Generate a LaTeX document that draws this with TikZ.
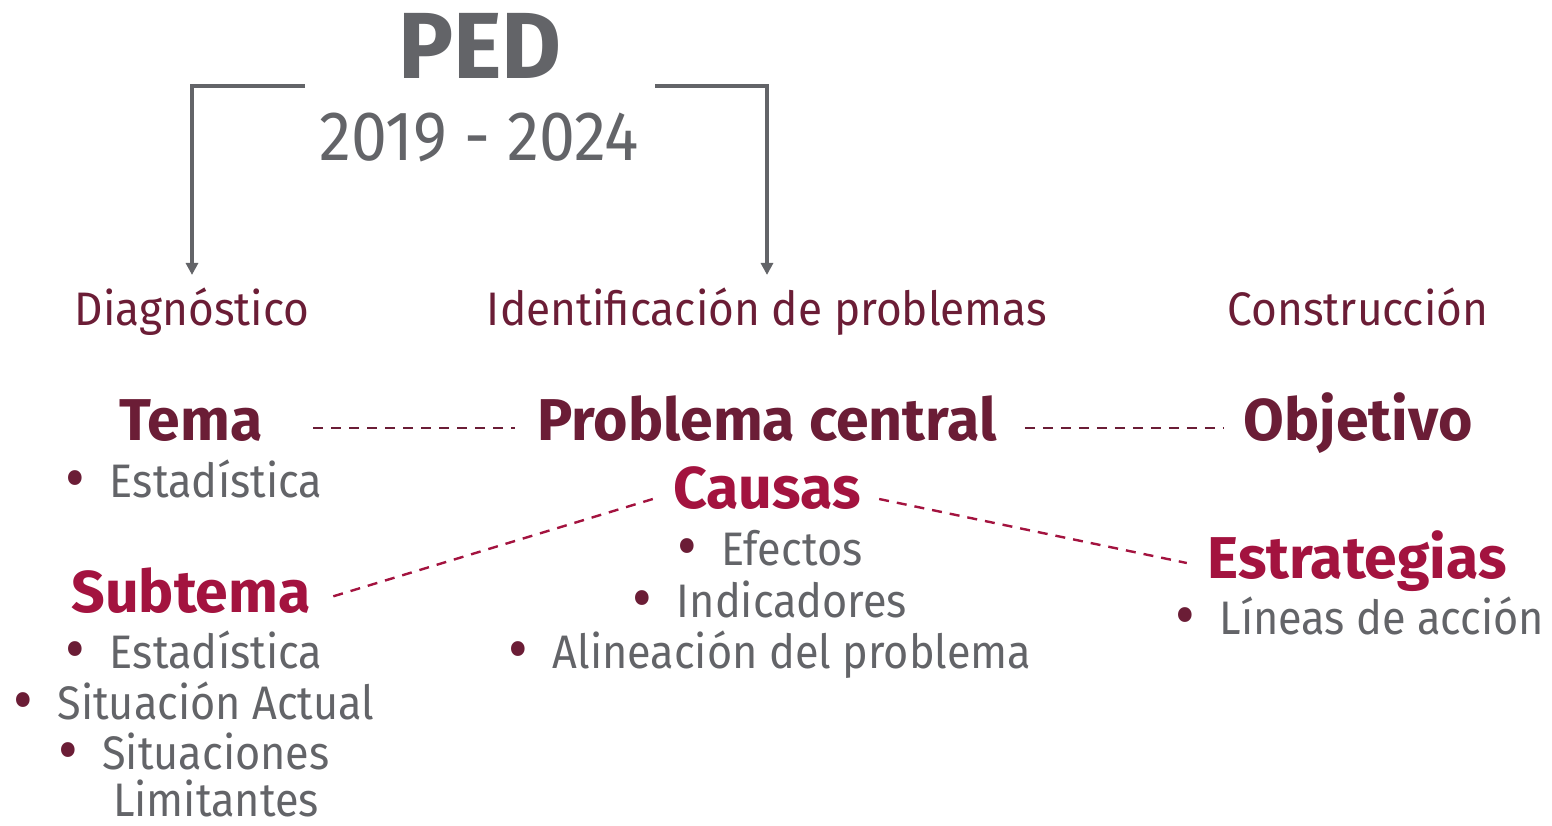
\documentclass[tikz,border=0pt]{standalone}
\usepackage{fontspec}
\setmainfont{Fira Sans}
\newfontfamily\titlefont[FakeStretch=0.98]{Fira Sans}
\newfontfamily\yearsfont[FakeStretch=0.92]{Fira Sans}
\newfontfamily\stagefont[FakeStretch=0.94]{Fira Sans}
\newfontfamily\itemfont[FakeStretch=0.92]{Fira Sans}
\usetikzlibrary{arrows.meta}

\definecolor{pedgray}{HTML}{636468}
\definecolor{pedmaroon}{HTML}{6B1D36}
\definecolor{pedcrimson}{HTML}{A3133F}

\newcommand{\itm}[1]{\makebox[22pt][l]{\color{pedmaroon}\raisebox{-1.8pt}{\scalebox{1.4}{\textbullet}}}#1}

\tikzset{
  pedtitle/.style={font=\titlefont\fontsize{47}{50}\selectfont\bfseries, text=pedgray, inner sep=0pt, anchor=base},
  pedyears/.style={font=\yearsfont\fontsize{35}{38}\selectfont, text=pedgray, inner sep=0pt, anchor=base},
  stage/.style={font=\stagefont\fontsize{23.5}{27}\selectfont, text=pedmaroon, inner sep=0pt, anchor=base},
  head/.style={font=\fontsize{29.5}{33}\selectfont\bfseries, text=pedmaroon, inner sep=0pt, anchor=base},
  subhead/.style={head, text=pedcrimson},
  item/.style={font=\itemfont\fontsize{23.5}{27}\selectfont, text=pedgray, inner sep=0pt, anchor=base},
  bracket/.style={draw=pedgray, line width=2pt, -{Triangle[length=6pt,width=6pt]}, shorten >=6pt},
  tie/.style={draw=pedmaroon, line width=1.2pt, dash pattern=on 5pt off 4pt},
  crimtie/.style={tie, draw=pedcrimson}
}

\begin{document}
\begin{tikzpicture}[x=0.5pt, y=-0.5pt]
    \useasboundingbox (0,0) rectangle (1552,825);

    % title
    \node[pedtitle] (ped) at (480,78) {PED};
    \node[pedyears] (years) at (479,160) {2019 - 2024};
    \coordinate (lstart) at (305,86);
    \coordinate (rstart) at (655,86);

    % stages
    \node[stage] (diag) at (192,325) {Diagnóstico};
    \node[stage] (ident) at (767,325) {Identificación de problemas};
    \node[stage] (constr) at (1358,325) {Construcción};

    \draw[bracket] (lstart) -| (diag);
    \draw[bracket] (rstart) -| (ident);

    % main headings
    \node[head] (tema) at (191,440) {Tema};
    \node[head] (central) at (767,440) {Problema central};
    \node[head] (objetivo) at (1358,440) {Objetivo};
    \node[subhead] (causas) at (767,508) {Causas};
    \node[subhead] (subtema) at (191,612) {Subtema};
    \node[subhead] (estrat) at (1357,578) {Estrategias};

    % lists
    \node[item] (temaest) at (194,497) {\itm{Estadística}};
    \node[item] (efectos) at (770,565) {\itm{Efectos}};
    \node[item] (indic) at (770,617) {\itm{Indicadores}};
    \node[item] (alin) at (770,668) {\itm{Alineación del problema}};
    \node[item] (lineas) at (1360,634) {\itm{Líneas de acción}};
    \node[item] (subest) at (194,668) {\itm{Estadística}};
    \node[item] (situac) at (194,719) {\itm{Situación Actual}};
    \node[item] (sitlim) at (194,769) {\itm{Situaciones}};
    \node[item] (limit) at (216,816) {Limitantes};

    % dashed ties
    \draw[tie] ([shift={(25pt,6pt)}]tema.base east) -- ([shift={(-11pt,6pt)}]central.base west);
    \draw[tie] ([shift={(14pt,6pt)}]central.base east) -- ([shift={(-10pt,6pt)}]objetivo.base west);
    \draw[crimtie] ([shift={(-10pt,4.5pt)}]causas.base west) -- ([shift={(10pt,7.5pt)}]subtema.base east);
    \draw[crimtie] ([shift={(9pt,4.5pt)}]causas.base east) -- ([shift={(-10pt,7.5pt)}]estrat.base west);
\end{tikzpicture}
\end{document}
